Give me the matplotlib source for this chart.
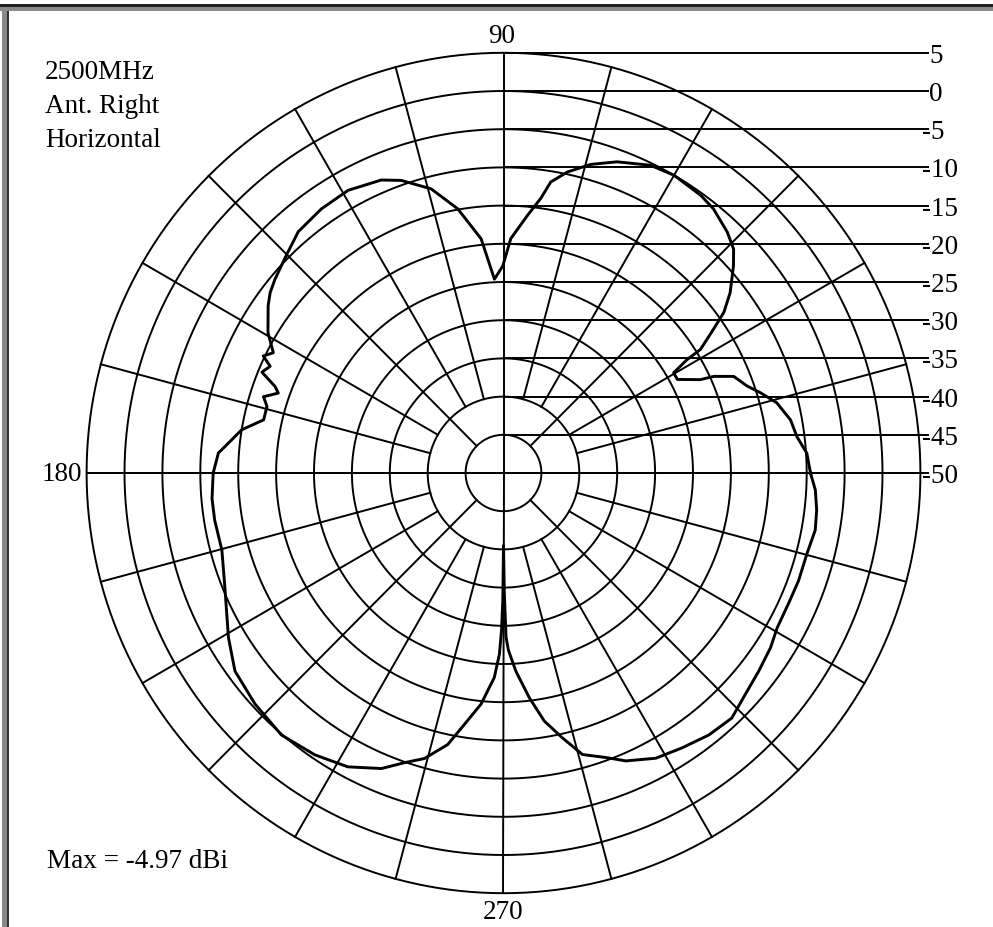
import numpy as np
import matplotlib.pyplot as plt
from matplotlib.patches import Rectangle

# measured pattern: azimuth (deg) and gain (dBi)
angles = [0, 3.7, 7, 10.4, 14.3, 17.2, 19.5, 22.6, 24.5, 25.2, 28.1, 30.3, 31.5, 31.9,
          34.2, 35.9, 38.3, 41.8, 44, 46.9, 51.3, 54.4, 60, 64.3, 69.8, 74.1, 77.9,
          80.7, 82.2, 84.6, 88.2, 90.2, 92.7, 95.5, 99.9, 104.4, 109.4, 112.8, 119,
          124.8, 130.6, 135.2, 139.9, 142.5, 144.8, 149.4, 152.6, 154.2, 155.6, 157.5,
          159.4, 160.6, 162.5, 164.4, 167.6, 170.7, 174.6, 176, 180, 185, 189.2, 195.2,
          202.2, 210.7, 216.2, 222.7, 229.5, 236, 241.9, 247.4, 251, 254.4, 258.3,
          261.1, 264.4, 267.4, 268.7, 269.3, 269.7, 270, 270.4, 270.9, 271.6, 273.6,
          276.6, 279.4, 282.6, 285.8, 289.9, 293.2, 298.3, 303.2, 308.3, 313.2, 317.7,
          322.4, 327, 330.7, 335.5, 340.1, 345.2, 349.7, 353.3, 356.9, 360]
gain = [-9.5, -9.9, -11.0, -11.5, -12.8, -14.5, -15.9, -17.1, -19.5, -21.3, -24.0, -24.0,
        -21.6, -19.4, -16.5, -14.1, -11.9, -9.3, -7.8, -6.8, -5.7, -5.3, -5.0, -5.3,
        -6.6, -8.0, -9.7, -11.4, -13.7, -16.1, -19.3, -22.9, -24.6, -19.2, -14.9, -11.6,
        -9.4, -8.4, -7.7, -7.9, -8.4, -9.6, -10.6, -11.2, -12.0, -13.9, -15.8, -14.8,
        -16.2, -15.5, -17.8, -18.5, -16.8, -17.6, -17.6, -15.0, -13.1, -12.3, -11.7,
        -11.4, -11.4, -11.5, -10.3, -7.8, -6.1, -5.4, -4.9, -5.5, -6.4, -8.1, -9.9,
        -11.2, -13.7, -16.7, -19.6, -23.2, -26.3, -29.5, -33.5, -40.5, -34.2, -28.5,
        -26.8, -24.0, -20.4, -17.1, -14.5, -11.7, -10.4, -9.0, -7.6, -7.0, -6.3, -6.0,
        -6.9, -7.5, -8.0, -8.6, -8.7, -8.6, -8.6, -8.2, -8.4, -8.8, -9.5]

ring_db = [5, 0, -5, -10, -15, -20, -25, -30, -35, -40, -45, -50]
floor_db = -50
header = ["2500MHz", "Ant. Right", "Horizontal"]
max_text = "Max = -4.97 dBi"

W, H = 993, 927
cx, cy = 503.5, 473          # pixel centre of the chart
sx, sy = 7.58, 7.64          # pixels per dB unit

fig = plt.figure(figsize=(W / 100, H / 100), dpi=100)
ax = fig.add_axes([0, 0, 1, 1])
ax.set_xlim(-cx / sx, (W - cx) / sx)
ax.set_ylim(-(H - cy) / sy, cy / sy)
ax.axis('off')

serif = ['Liberation Serif', 'DejaVu Serif']
fs = 19.5
lw = 1.4
rmax = ring_db[0] - floor_db

# rings
t = np.linspace(0, 2 * np.pi, 721)
for v in ring_db[:-1]:
    r = v - floor_db
    ax.plot(r * np.cos(t), r * np.sin(t), color='black', lw=lw)

# spokes every 15 deg
for a in range(0, 360, 15):
    if a % 90 == 0:
        r0 = 0
    elif a % 45 == 0:
        r0 = 5
    else:
        r0 = 10
    th = np.radians(a)
    ax.plot([r0 * np.cos(th), rmax * np.cos(th)], [r0 * np.sin(th), rmax * np.sin(th)],
            color='black', lw=lw)

# level leader lines + labels on the right
xend = (929 - cx) / sx
for v in ring_db:
    r = v - floor_db
    x0 = -rmax if v == floor_db else 0
    ax.plot([x0, xend], [r, r], color='black', lw=lw, solid_capstyle='butt')
    lab = str(v)
    xl = xend if v >= 0 else xend - 0.95
    ax.text(xl, r - 1.3, lab, ha='left', va='baseline', fontsize=fs, family=serif)

# pattern
th = np.radians(angles)
rr = np.array(gain) - floor_db
ax.plot(rr * np.cos(th), rr * np.sin(th), color='black', lw=2.1)

# angle labels
fig.text(502 / W, 1 - 43 / H, "90", ha='center', va='baseline', fontsize=fs, family=serif)
fig.text(82 / W, 1 - 481 / H, "180", ha='right', va='baseline', fontsize=fs, family=serif)
fig.text(503 / W, 1 - 919 / H, "270", ha='center', va='baseline', fontsize=fs, family=serif)

for i, s in enumerate(header):
    fig.text(45 / W, 1 - (79 + 34 * i) / H, s, ha='left', va='baseline', fontsize=fs, family=serif)
fig.text(47 / W, 1 - 868 / H, max_text, ha='left', va='baseline', fontsize=fs, family=serif)

# scanned frame edges
fig.patches.append(Rectangle((2 / W, 0), 7 / W, 1 - 4 / H, transform=fig.transFigure,
                             color='#8a8a8a', lw=0))
fig.patches.append(Rectangle((7 / W, 0), 2 / W, 1 - 4 / H, transform=fig.transFigure,
                             color='#333333', lw=0))
fig.patches.append(Rectangle((0, 1 - 11 / H), 1, 4 / H, transform=fig.transFigure,
                             color='#8a8a8a', lw=0))
fig.patches.append(Rectangle((0, 1 - 7 / H), 1, 3 / H, transform=fig.transFigure,
                             color='#222222', lw=0))

fig.savefig('out.png', dpi=100)
